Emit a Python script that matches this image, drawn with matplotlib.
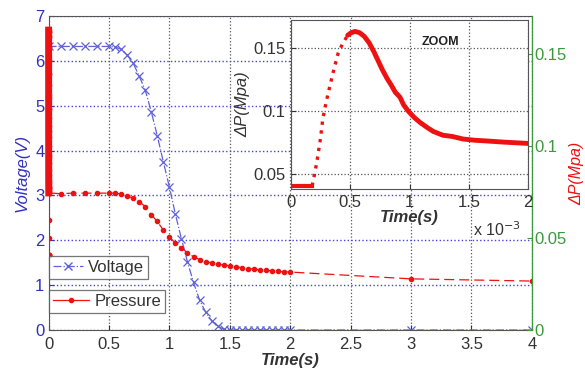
import matplotlib
matplotlib.use("Agg")
import matplotlib.pyplot as plt
from matplotlib.lines import Line2D

plt.rcParams['font.family'] = ['Liberation Sans', 'DejaVu Sans']

# Voltage (V) vs time (s)
volt_t = [0, 0.1, 0.2, 0.3, 0.4, 0.5, 0.55, 0.6, 0.65, 0.7, 0.75, 0.8, 0.85, 0.9, 0.95,
          1.0, 1.05, 1.1, 1.15, 1.2, 1.25, 1.3, 1.35, 1.4, 1.45, 1.5, 1.55, 1.6, 1.65,
          1.7, 1.75, 1.8, 1.85, 1.9, 1.95, 2.0, 3.0, 4.0]
volt_v = [6.32, 6.32, 6.32, 6.32, 6.32, 6.32, 6.31, 6.26, 6.13, 5.95, 5.66, 5.35, 4.87,
          4.33, 3.75, 3.19, 2.58, 2.03, 1.52, 1.06, 0.67, 0.40, 0.21, 0.08, 0.02,
          0, 0, 0, 0, 0, 0, 0, 0, 0, 0, 0, 0, 0]

# Pressure (MPa), first 2 ms (zoom)
zoom_t = [0, 0.00005, 0.0001, 0.00015, 0.00018, 0.0002, 0.00022, 0.00025, 0.00027,
          0.0003, 0.00033, 0.00035, 0.00038, 0.0004, 0.00044, 0.00048, 0.00051,
          0.00054, 0.00058, 0.00062, 0.00066, 0.0007, 0.00074, 0.00077, 0.00081,
          0.00085, 0.00088, 0.00092, 0.00095, 0.00099, 0.00104, 0.00109, 0.00115,
          0.0012, 0.00128, 0.00136, 0.00145, 0.00155, 0.00164, 0.0018, 0.002]
zoom_p = [0.041, 0.041, 0.041, 0.041, 0.041, 0.05, 0.06, 0.078, 0.094, 0.108, 0.12,
          0.128, 0.139, 0.146, 0.154, 0.160, 0.162, 0.163, 0.162, 0.159, 0.154, 0.147,
          0.139, 0.133, 0.126, 0.12, 0.115, 0.111, 0.105, 0.100, 0.095, 0.091, 0.087,
          0.084, 0.081, 0.080, 0.078, 0.077, 0.0765, 0.0755, 0.0745]

# Pressure (MPa) after the first 2 ms
pres_t = [0.1, 0.2, 0.3, 0.4, 0.5, 0.55, 0.6, 0.65, 0.7, 0.75, 0.8, 0.85, 0.9, 0.95,
          1.0, 1.05, 1.1, 1.15, 1.2, 1.25, 1.3, 1.35, 1.4, 1.45, 1.5, 1.55, 1.6, 1.65,
          1.7, 1.75, 1.8, 1.85, 1.9, 1.95, 2.0, 3.0, 4.0]
pres_p = [0.0741, 0.0744, 0.0744, 0.0744, 0.0744, 0.0744, 0.0739, 0.0729, 0.0717,
          0.0698, 0.0671, 0.0627, 0.0590, 0.0544, 0.0505, 0.0473, 0.0446, 0.0420,
          0.0398, 0.0383, 0.0371, 0.0365, 0.0358, 0.0353, 0.0349, 0.0344, 0.0339,
          0.0334, 0.0331, 0.0327, 0.0324, 0.0322, 0.0319, 0.0317, 0.0315, 0.0278,
          0.0266]

all_t = zoom_t + pres_t
all_p = zoom_p + pres_p
peak = zoom_p.index(max(zoom_p))
rise0 = 4

blue = '#6060d8'
blue_txt = '#3030c0'
red = '#ee1111'
green = '#3a9a3a'
gray = '#333333'

fig = plt.figure(figsize=(5.85, 3.71), dpi=100)
ax = fig.add_axes([0.083, 0.1105, 0.826, 0.8465])
ax2 = ax.twinx()

ax.plot(volt_t, volt_v, '-.', color=blue, marker='x', ms=6, lw=0.9, mew=0.9)
ax2.plot(all_t, all_p, '--', color=red, dashes=(8, 4), lw=0.9, marker='.', ms=6)
ax2.plot(zoom_t[peak:], zoom_p[peak:], '-', color=red, lw=5, clip_on=False)

ax.set_xlim(0, 4)
ax.set_ylim(0, 7)
ax2.set_ylim(0, 0.1707)
ax.set_xticks([0, 0.5, 1, 1.5, 2, 2.5, 3, 3.5, 4])
ax.set_xticklabels(['0', '0.5', '1', '1.5', '2', '2.5', '3', '3.5', '4'])
ax.set_yticks(range(8))
ax2.set_yticks([0, 0.05, 0.1, 0.15])
ax2.set_yticklabels(['0', '0.05', '0.1', '0.15'])

ax.grid(axis='x', color='#555555', ls=':', lw=0.9)
ax.grid(axis='y', color='#4444dd', ls=':', lw=1.0)
ax.tick_params(axis='x', direction='in', colors=gray, labelsize=12, labelcolor=gray, pad=5)
ax.tick_params(axis='y', direction='in', colors=blue_txt, labelsize=12, pad=3)
ax2.tick_params(axis='y', direction='in', colors=green, labelsize=12, pad=2)
for s in ['top', 'left', 'bottom']:
    ax.spines[s].set_color('#555555')
ax2.spines['right'].set_color(green)
ax2.spines['left'].set_visible(False)
ax2.spines['top'].set_visible(False)
ax2.spines['bottom'].set_visible(False)

ax.set_xlabel('Time(s)', fontsize=12, style='italic', fontweight='bold', color=gray, labelpad=1)
ax.set_ylabel('Voltage(V)', fontsize=12, style='italic', color=blue_txt, labelpad=4)
ax2.set_ylabel('ΔP(Mpa)', fontsize=11.5, style='italic', color=red, labelpad=2)

leg1 = ax2.legend([Line2D([], [], color=blue, ls='-.', marker='x', ms=6, lw=0.9)], ['Voltage'],
                  loc='upper left', bbox_to_anchor=(0.0, 0.237), fontsize=12, frameon=True,
                  fancybox=False, edgecolor='#555555', handlelength=1.8, borderpad=0.25,
                  handletextpad=0.3, borderaxespad=0)
leg1.get_frame().set_linewidth(0.9)
ax2.add_artist(leg1)
leg2 = ax2.legend([Line2D([], [], color=red, ls='-', marker='.', ms=6, lw=0.9)], ['Pressure'],
                  loc='upper left', bbox_to_anchor=(0.0, 0.128), fontsize=12, frameon=True,
                  fancybox=False, edgecolor='#555555', handlelength=2.2, borderpad=0.25,
                  handletextpad=0.3, borderaxespad=0)
leg2.get_frame().set_linewidth(0.9)
for lg in (leg1, leg2):
    for t in lg.get_texts():
        t.set_color(gray)

# zoom inset
axi = fig.add_axes([0.497, 0.4906, 0.406, 0.4554])
axi.plot(zoom_t[:rise0 + 1], zoom_p[:rise0 + 1], '-', color=red, lw=3)
axi.plot(zoom_t[rise0:peak + 1], zoom_p[rise0:peak + 1], ':', color=red, lw=2.4)
axi.plot(zoom_t[peak - 2:], zoom_p[peak - 2:], '-', color=red, lw=3.5, solid_capstyle='round')
axi.set_xlim(0, 0.002)
axi.set_ylim(0.0385, 0.172)
axi.set_xticks([0, 0.0005, 0.001, 0.0015, 0.002])
axi.set_xticklabels(['0', '0.5', '1', '1.5', '2'])
axi.set_yticks([0.05, 0.1, 0.15])
axi.set_yticklabels(['0.05', '0.1', '0.15'])
axi.grid(color='#555555', ls=':', lw=0.9)
axi.tick_params(direction='in', colors=gray, labelsize=12, pad=4)
for s in axi.spines.values():
    s.set_color('#555555')
axi.set_xlabel('Time(s)', fontsize=12, style='italic', fontweight='bold', color=gray, labelpad=0)
axi.set_ylabel('ΔP(Mpa)', fontsize=12, style='italic', color=gray, labelpad=2)
axi.text(0.00126, 0.155, 'ZOOM', fontsize=9, fontweight='bold', color='#222222',
         ha='center', va='center')
axi.text(0.97, -0.24, 'x 10$^{-3}$', transform=axi.transAxes, fontsize=11.5, color=gray,
         ha='right', va='center')

fig.savefig('out.png', dpi=100)
